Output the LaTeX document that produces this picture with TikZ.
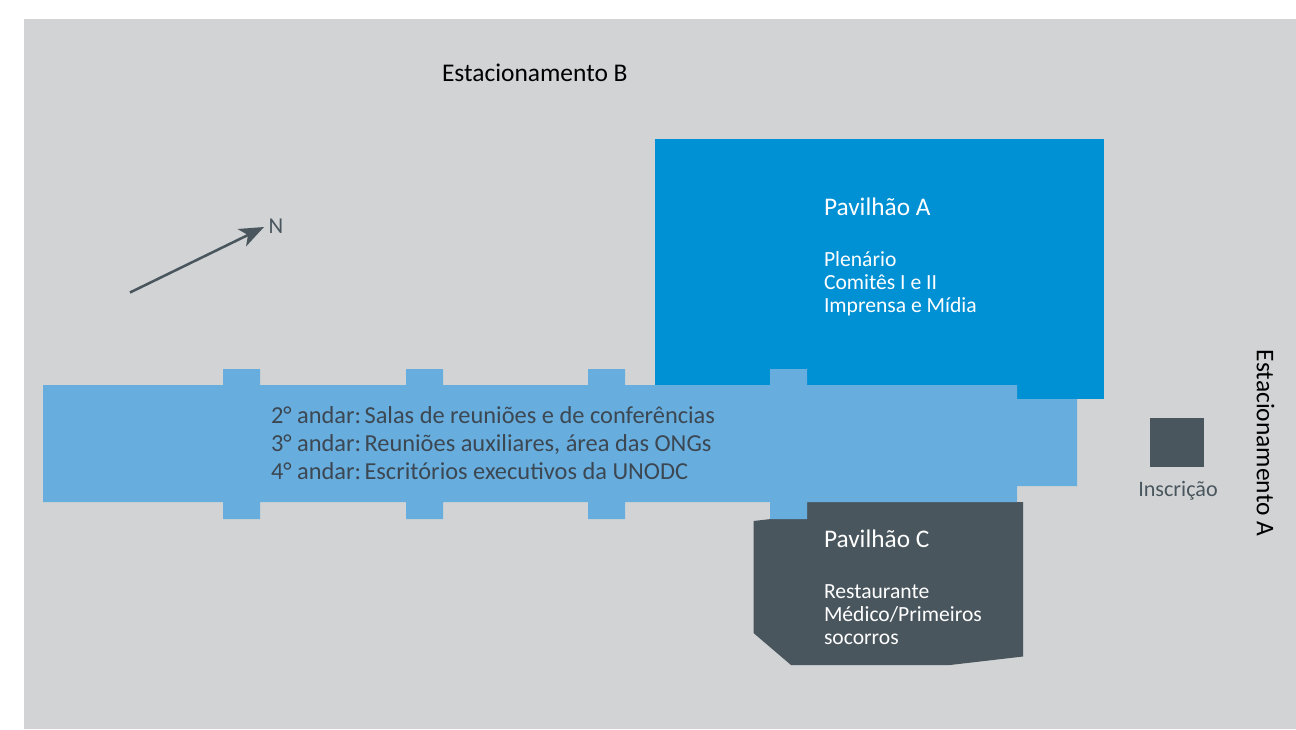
\documentclass[tikz,border=0pt]{standalone}
\usepackage{fontspec}
\setmainfont{Carlito}
\definecolor{bgray}{HTML}{D1D3D4}
\definecolor{pavblue}{HTML}{0090D4}
\definecolor{corridor}{HTML}{67AEDF}
\definecolor{slate}{HTML}{4A565E}
\definecolor{inktext}{HTML}{3C4752}
\tikzset{
  lbl/.style={inner sep=0pt,outer sep=0pt,anchor=base west},
  titlelbl/.style={lbl,text=white,font=\fontsize{19}{20}\selectfont},
  whitelbl/.style={lbl,text=white,font=\fontsize{16.2}{18}\selectfont},
  floorlbl/.style={lbl,text=inktext,font=\fontsize{18.3}{20}\selectfont},
  parklbl/.style={lbl,text=black,font=\fontsize{19.1}{20}\selectfont}
}
\newcommand{\tightsp}{\hspace{-3pt}}
\begin{document}
\begin{tikzpicture}[x=0.75pt,y=-0.75pt]
\useasboundingbox (0,0) rectangle (1296,729);
\fill[white] (0,0) rectangle (1296,729);
\fill[bgray] (24,18.5) rectangle (1296,729);
% Pavilhão A
\fill[pavblue] (655,139) rectangle (1104,399);
% Pavilhão C
\fill[slate] (807,502) -- (1023,502) -- (1023,656.5) -- (950,665) -- (791,665) -- (753.5,633) -- (753.5,521) -- (771,519) -- cycle;
% Corridor
\fill[corridor] (43,385) -- (223,385) -- (223,369) -- (260,369) -- (260,385)
  -- (406,385) -- (406,369) -- (443,369) -- (443,385)
  -- (588,385) -- (588,369) -- (625,369) -- (625,385)
  -- (770,385) -- (770,369) -- (807,369) -- (807,385)
  -- (1017,385) -- (1017,399) -- (1077,399) -- (1077,486) -- (1017,486) -- (1017,502)
  -- (807,502) -- (807,519) -- (770,519) -- (770,502)
  -- (625,502) -- (625,519) -- (588,519) -- (588,502)
  -- (443,502) -- (443,519) -- (406,519) -- (406,502)
  -- (260,502) -- (260,519) -- (223,519) -- (223,502)
  -- (43,502) -- cycle;
% Inscrição square
\fill[slate] (1150,418) rectangle (1204,467);
% Labels
\node[parklbl] (estb) at (442,81) {Estacionamento B};
\node[parklbl,anchor=center,rotate=-90] (esta) at (1265.5,443) {Estacionamento A};
\node[lbl,anchor=base,text=slate,font=\fontsize{16.6}{18}\selectfont] (insc) at (1178,496) {Inscrição};
\node[lbl,text=slate,font=\fontsize{17}{18}\selectfont] (north) at (268.5,233) {N};
\node[titlelbl] (pava) at (824,215.5) {Pavilhão A};
\node[whitelbl] (pavaa) at (824,266) {Plenário};
\node[whitelbl] (pavab) at (824,289) {Comitês I e II};
\node[whitelbl] (pavac) at (824,312) {Imprensa e Mídia};
\node[titlelbl] (pavc) at (824,547) {Pavilhão C};
\node[whitelbl] (pavca) at (824,598) {Restaurante};
\node[whitelbl] (pavcb) at (824,621) {Médico/Primeiros};
\node[whitelbl] (pavcc) at (824,644.5) {socorros};
\node[floorlbl] (f2) at (271,423) {2° andar:\tightsp{} Salas de reuniões e de conferências};
\node[floorlbl] (f3) at (271,451) {3° andar:\tightsp{} Reuniões auxiliares, área das ONGs};
\node[floorlbl] (f4) at (271,479) {4° andar:\tightsp{} Escritórios executivos da UNODC};
% North arrow
\coordinate (tail) at (130,292.5);
\coordinate (tip) at (264,227);
\draw[slate,line width=1.9pt] (tail) -- (248,235);
\fill[slate] (tip) -- (246,246.5) -- (248,235) -- (237.5,229) -- cycle;
\end{tikzpicture}
\end{document}
